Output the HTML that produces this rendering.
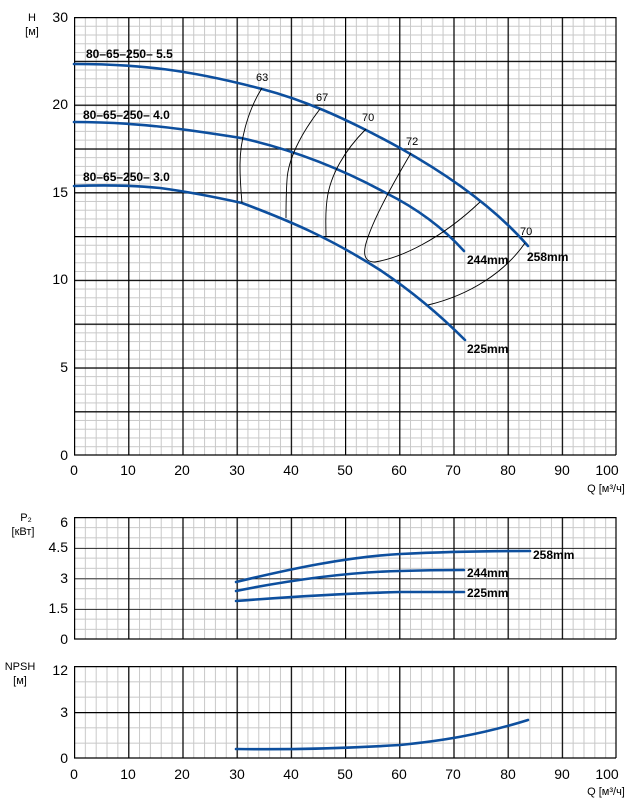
<!DOCTYPE html>
<html><head><meta charset="utf-8"><style>
html,body{margin:0;padding:0;background:#fff;}
svg{display:block;font-family:"Liberation Sans","DejaVu Sans",sans-serif;}
</style></head><body>
<svg width="640" height="804" viewBox="0 0 640 804" xmlns="http://www.w3.org/2000/svg">
<defs>
<pattern id="m1" patternUnits="userSpaceOnUse" x="74" y="17" width="10.84" height="8.76"><path d="M0.5,0 V8.76 M0,0.5 H10.84" stroke="#c8c8c8" stroke-width="1" fill="none"/></pattern>
<pattern id="M1" patternUnits="userSpaceOnUse" x="74" y="17" width="54.2" height="43.8"><path d="M0.6,0 V43.8 M0,0.6 H54.2" stroke="#000" stroke-width="1.2" fill="none"/></pattern>
<pattern id="m2" patternUnits="userSpaceOnUse" x="74" y="517" width="10.84" height="10.167"><path d="M0.5,0 V10.167 M0,0.5 H10.84" stroke="#c8c8c8" stroke-width="1" fill="none"/></pattern>
<pattern id="M2" patternUnits="userSpaceOnUse" x="74" y="517" width="54.2" height="30.5"><path d="M0.6,0 V30.5 M0,0.6 H54.2" stroke="#000" stroke-width="1.2" fill="none"/></pattern>
<pattern id="m3" patternUnits="userSpaceOnUse" x="74" y="666" width="10.84" height="15.333"><path d="M0.5,0 V15.333 M0,0.5 H10.84" stroke="#c8c8c8" stroke-width="1" fill="none"/></pattern>
<pattern id="M3" patternUnits="userSpaceOnUse" x="74" y="666" width="54.2" height="46"><path d="M0.6,0 V46 M0,0.6 H54.2" stroke="#000" stroke-width="1.2" fill="none"/></pattern>
</defs>
<rect x="74" y="17" width="542" height="438" fill="url(#m1)"/>
<rect x="74" y="17" width="542" height="438" fill="url(#M1)"/>
<rect x="74" y="517" width="542" height="122" fill="url(#m2)"/>
<rect x="74" y="517" width="542" height="122" fill="url(#M2)"/>
<rect x="74" y="666" width="542" height="92" fill="url(#m3)"/>
<rect x="74" y="666" width="542" height="92" fill="url(#M3)"/>
<g stroke="#000" stroke-width="1.2">
<line x1="616" y1="17" x2="616" y2="455"/><line x1="74" y1="455" x2="616" y2="455"/>
<line x1="616" y1="517" x2="616" y2="639"/><line x1="74" y1="639" x2="616" y2="639"/>
<line x1="616" y1="666" x2="616" y2="758"/><line x1="74" y1="758" x2="616" y2="758"/>
</g>
<g fill="none" stroke="#0d4f9e" stroke-width="2.6" stroke-linecap="round">
<path d="M74,64 C140,64 190,70 262,89 C300,99 340,115 400,148 C450,176 495,208 528,246"/>
<path d="M74,122 C140,122 190,130 241,138 C290,149 340,168 386,193 C420,210 445,230 464,251"/>
<path d="M74,186 C100,185 130,185 160,188 C190,192 215,197 242,203 C290,221 330,238 380,270 C410,290 440,315 465,340"/>
<path d="M236,582 C290,569 346,557 400,554 C460,551 500,551 530,551"/>
<path d="M236,591 C290,580 350,572 400,571 C430,570 450,570 464,570"/>
<path d="M236,601 C300,596 360,593 400,592 C430,592 450,592 464,592"/>
<path d="M236,749 C300,750 350,748 400,745 C440,741 480,735 528,720"/>
</g>
<g fill="none" stroke="#000" stroke-width="0.9">
<path d="M262,88 C248,110 240,140 240,165 C240,180 241,192 242,203"/>
<path d="M320,109 C300,135 288,160 287,180 C286,195 286,208 286,218"/>
<path d="M366,129 C345,150 330,175 327,200 C325,215 326,228 326,236"/>
<path d="M411,153 C395,180 375,215 367,240 C362,255 365,262 375,262 C400,258 440,240 480,202"/>
<path d="M525,243 C505,272 470,295 428,305"/>
</g>
<g font-size="11" fill="#000">
<text x="256" y="81">63</text><text x="316" y="101">67</text><text x="362" y="121">70</text><text x="406" y="145">72</text><text x="520" y="235">70</text>
</g>
<g font-size="12" font-weight="bold" fill="#000">
<text x="86" y="58">80–65–250– 5.5</text>
<text x="83" y="119">80–65–250– 4.0</text>
<text x="83" y="181">80–65–250– 3.0</text>
<text x="467" y="264">244mm</text>
<text x="527" y="261">258mm</text>
<text x="467" y="353">225mm</text>
<text x="533" y="559">258mm</text>
<text x="467" y="577">244mm</text>
<text x="467" y="597">225mm</text>
</g>
<g font-size="14" fill="#000" text-anchor="end">
<text x="68" y="22">30</text><text x="68" y="109">20</text><text x="68" y="197">15</text><text x="68" y="284">10</text><text x="68" y="372">5</text><text x="68" y="460">0</text>
<text x="68" y="527">6</text><text x="68" y="552">4.5</text><text x="68" y="583">3</text><text x="68" y="613">1.5</text><text x="68" y="644">0</text>
<text x="68" y="675">12</text><text x="68" y="717">3</text><text x="68" y="763">0</text>
</g>
<g font-size="14" fill="#000" text-anchor="middle">
<text x="74" y="475">0</text><text x="128" y="475">10</text><text x="182" y="475">20</text><text x="237" y="475">30</text><text x="291" y="475">40</text><text x="345" y="475">50</text><text x="399" y="475">60</text><text x="453" y="475">70</text><text x="508" y="475">80</text><text x="562" y="475">90</text><text x="607" y="475">100</text>
<text x="74" y="779">0</text><text x="128" y="779">10</text><text x="182" y="779">20</text><text x="237" y="779">30</text><text x="291" y="779">40</text><text x="345" y="779">50</text><text x="399" y="779">60</text><text x="453" y="779">70</text><text x="508" y="779">80</text><text x="562" y="779">90</text><text x="607" y="779">100</text>
</g>
<g font-size="11" fill="#000" text-anchor="middle">
<text x="32" y="21">H</text><text x="32" y="35">[м]</text>
<text x="26" y="521">P₂</text><text x="23" y="535">[кВт]</text>
<text x="20" y="670">NPSH</text><text x="20" y="684">[м]</text>
<text x="606" y="492">Q [м³/ч]</text>
<text x="606" y="795">Q [м³/ч]</text>
</g>
</svg>
</body></html>
